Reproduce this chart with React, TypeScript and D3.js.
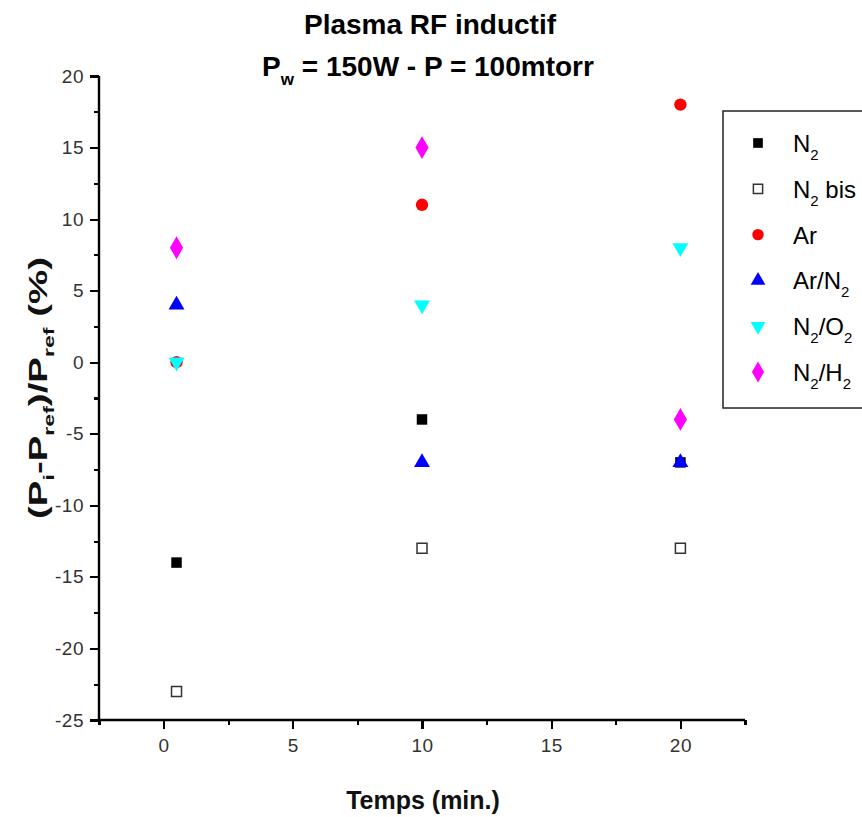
import { useEffect, useRef } from "react";
import * as d3 from "d3";

// temps (min.) for every series
const times = [0.5, 10, 20];

const seriesNames = ["N2", "N2 bis", "Ar", "Ar/N2", "N2/O2", "N2/H2"];
const n2 = [-14, -4, -7];
const n2bis = [-23, -13, -13];
const ar = [0, 11, 18];
const arN2 = [4, -7, -7];
const n2O2 = [0, 4, 8];
const n2H2 = [8, 15, -4];

const xTicks = [0, 5, 10, 15, 20];
const yTicks = [-25, -20, -15, -10, -5, 0, 5, 10, 15, 20];

const FONT = "'Liberation Sans', Arial, sans-serif";

export default function App() {
  const ref = useRef<SVGSVGElement>(null);

  useEffect(() => {
    const svg = d3.select(ref.current);
    svg.selectAll("*").remove();

    const x = d3.scaleLinear().domain([-2.5, 22.5]).range([99, 745]);
    const y = d3.scaleLinear().domain([-25, 20]).range([720, 76]);

    const series = [
      { name: seriesNames[0], values: n2, symbol: d3.symbolSquare, fill: "#000", stroke: "none", size: 110 },
      { name: seriesNames[1], values: n2bis, symbol: d3.symbolSquare, fill: "#fff", stroke: "#333", size: 100 },
      { name: seriesNames[2], values: ar, symbol: d3.symbolCircle, fill: "#ff0000", stroke: "none", size: 120 },
      { name: seriesNames[3], values: arN2, symbol: d3.symbolTriangle, fill: "#0000ff", stroke: "none", size: 110 },
      { name: seriesNames[4], values: n2O2, symbol: d3.symbolTriangle, fill: "#00ffff", stroke: "none", size: 110, flip: true },
      { name: seriesNames[5], values: n2H2, symbol: d3.symbolDiamond, fill: "#ff00ff", stroke: "none", size: 150 },
    ];

    const fmt = (d: d3.NumberValue) => String(d);

    // axes: minor ticks first, then major ticks with labels
    const gx = svg.append("g").attr("transform", "translate(0,720)");
    gx.call(d3.axisBottom(x).tickValues(d3.range(-2.5, 23, 5)).tickSize(5).tickFormat(() => ""));
    gx.call((g) => g.select(".domain").remove());
    const gx2 = svg.append("g").attr("transform", "translate(0,720)");
    gx2.call(d3.axisBottom(x).tickValues(xTicks).tickSize(9).tickPadding(10).tickSizeOuter(0).tickFormat(fmt));
    gx2.select(".domain").attr("d", `M${x(-2.5)},0H${x(22.5)}`);

    const gy = svg.append("g").attr("transform", "translate(99,0)");
    gy.call(d3.axisLeft(y).tickValues(d3.range(-22.5, 20, 5)).tickSize(5).tickFormat(() => ""));
    gy.call((g) => g.select(".domain").remove());
    const gy2 = svg.append("g").attr("transform", "translate(99,0)");
    gy2.call(d3.axisLeft(y).tickValues(yTicks).tickSize(9).tickPadding(6).tickSizeOuter(0).tickFormat(fmt));
    gy2.select(".domain").attr("d", `M0,${y(20)}V${y(-25)}`);

    svg.selectAll(".domain").attr("stroke", "#000").attr("stroke-width", 2.4);
    svg
      .selectAll(".tick line")
      .attr("stroke", "#000")
      .attr("stroke-width", 2.2)
      .attr("shape-rendering", "crispEdges");
    svg
      .selectAll(".tick text")
      .attr("fill", "#333")
      .style("font-family", FONT)
      .style("font-size", "19px")
      .style("letter-spacing", "0.5px");

    // points
    series.forEach((s) => {
      svg
        .append("g")
        .selectAll("path")
        .data(s.values)
        .join("path")
        .attr("d", d3.symbol(s.symbol, s.size))
        .attr(
          "transform",
          (d, i) => `translate(${x(times[i])},${y(d)})${s.flip ? " rotate(180)" : ""}`
        )
        .attr("fill", s.fill)
        .attr("stroke", s.stroke)
        .attr("stroke-width", 1.5);
    });

    // legend
    const lg = svg.append("g");
    lg.append("rect")
      .attr("x", 723)
      .attr("y", 111)
      .attr("width", 160)
      .attr("height", 297)
      .attr("fill", "#fff")
      .attr("stroke", "#222")
      .attr("stroke-width", 1.5);

    const legendText = (t: d3.Selection<SVGTextElement, unknown, null, undefined>, name: string) => {
      // digits "2" go to subscript, rest stays on the baseline
      const parts = name.split(/(2)/).filter((p) => p !== "");
      let down = false;
      parts.forEach((p) => {
        if (p === "2") {
          t.append("tspan").attr("dy", 8).style("font-size", "15px").text("2");
          down = true;
        } else {
          t.append("tspan").attr("dy", down ? -8 : 0).text(p);
          down = false;
        }
      });
    };

    series.forEach((s, i) => {
      const ly = 143 + i * 45.8;
      lg.append("path")
        .attr("d", d3.symbol(s.symbol, s.size * 0.85))
        .attr("transform", `translate(758,${ly})${s.flip ? " rotate(180)" : ""}`)
        .attr("fill", s.fill)
        .attr("stroke", s.stroke)
        .attr("stroke-width", 1.5);
      const t = lg
        .append("text")
        .attr("x", 793)
        .attr("y", ly + 9)
        .style("font-family", FONT)
        .style("font-size", "24px")
        .attr("fill", "#000");
      legendText(t, s.name);
    });

    // titles
    svg
      .append("text")
      .attr("x", 430)
      .attr("y", 34)
      .attr("text-anchor", "middle")
      .style("font-family", FONT)
      .style("font-weight", "bold")
      .style("font-size", "28px")
      .text("Plasma RF inductif");

    const t2 = svg
      .append("text")
      .attr("x", 428)
      .attr("y", 76)
      .attr("text-anchor", "middle")
      .style("font-family", FONT)
      .style("font-weight", "bold")
      .style("font-size", "28px");
    t2.append("tspan").text("P");
    t2.append("tspan").attr("dy", 9).style("font-size", "17px").text("w");
    t2.append("tspan").attr("dy", -9).text(" = 150W - P = 100mtorr");

    svg
      .append("text")
      .attr("x", 423)
      .attr("y", 809)
      .attr("text-anchor", "middle")
      .style("font-family", FONT)
      .style("font-size", "25px")
      .style("font-weight", "bold")
      .attr("fill", "#111")
      .text("Temps (min.)");

    const yl = svg
      .append("text")
      .attr("transform", "translate(47,388) rotate(-90)")
      .attr("text-anchor", "middle")
      .attr("textLength", 262)
      .attr("lengthAdjust", "spacingAndGlyphs")
      .style("font-family", FONT)
      .style("font-size", "25px")
      .style("font-weight", "bold")
      .attr("fill", "#111");
    yl.append("tspan").text("(P");
    yl.append("tspan").attr("dy", 7).style("font-size", "15px").text("i");
    yl.append("tspan").attr("dy", -7).text("-P");
    yl.append("tspan").attr("dy", 7).style("font-size", "15px").text("ref");
    yl.append("tspan").attr("dy", -7).text(")/P");
    yl.append("tspan").attr("dy", 7).style("font-size", "15px").text("ref");
    yl.append("tspan").attr("dy", -7).text(" (%)");
  }, []);

  return (
    <svg
      ref={ref}
      width={862}
      height={817}
      style={{ position: "absolute", left: 0, top: 0, background: "#fff" }}
    />
  );
}
